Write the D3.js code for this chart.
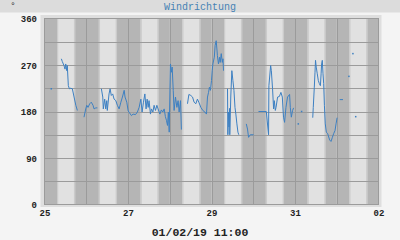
<!DOCTYPE html>
<html lang="de">
<head>
<meta charset="utf-8">
<title>Windrichtung</title>
<style>
  html, body { margin: 0; padding: 0; background: #f4f4f4; }
  svg { display: block; }
  .tick text { font-family: "Liberation Mono", "DejaVu Sans Mono", monospace; font-weight: bold; font-size: 9px; fill: #222; }
</style>
</head>
<body>
<svg id="chart" width="400" height="240"></svg>
<script src="https://d3js.org/d3.v7.min.js"></script>
<script>

// hours after 25.01.19 00:00 ; null in dir = break in the line
var hours = [
  3.9, 6,
  9.7, 10.2, 11.2, 11.8, 12.2, 12.8, 13.1, 13.7, 14.3, 15.1, 16.0, 17.0, 18.0, 18.9, 20,
  22.7, 23.7, 24.3, 25.0, 26.0, 26.9, 27.9, 28.5, 29.5, 30.4, 31.5,
  32.7, 33.5, 33.8, 34.6, 35.2, 35.8, 36.1, 37.1, 37.7, 38.4, 39.2, 40.0, 41.0, 41.9, 42.9, 43.9, 44.8, 45.8, 46.3, 47.3,
  48.1, 50.0, 50.9, 52.3, 53.4, 54.4, 55.4, 56.1, 56.9, 57.7, 58.4, 59.0, 59.6, 60.1, 60.9, 61.5, 62.3, 63.0, 63.8, 64.6,
  65.3, 66.3, 67.2, 68.0, 68.8, 69.5, 70.1, 70.7, 71.2, 71.7, 72.1, 72.4, 73.0, 73.4, 74.0, 74.5, 75.3, 76.1, 76.8, 77.4,
  78.2, 78.7, 80,
  82.2, 83.0, 84.1, 85.1, 86.0, 87.0, 87.9, 88.7, 89.9, 91.0, 92.2, 93.1, 93.7, 94.3, 94.8, 95.4, 96.0, 96.4, 96.8, 97.6,
  98.1, 98.7, 99.1, 99.4, 100.0, 100.6, 101.0, 101.6, 102.2, 102.6, 102.9, 104,
  105.2, 105.4, 105.8, 106.1, 106.4, 106.5, 107.1, 107.7, 108.3, 108.9, 109.5, 110.0, 110.6, 111.2, 111.7, 114,
  116.0, 116.7, 117.3, 118.3, 120.2, 121.5,
  123.0, 127.5, 128.8, 129.0, 130.0, 130.4, 131.1, 131.7, 132.1, 132.7, 133.1, 134.0, 135.0, 135.9, 136.7, 137.4, 138.0,
  138.8, 139.7, 140.9, 141.3, 141.9, 142.6, 143.2, 144.5,
  145.9, 147, 147.8, 150,
  154.2, 154.5, 155.1, 155.5, 155.8, 156.2, 156.8, 157.4, 158.0, 158.6, 159.0, 159.3, 159.7, 160.1, 160.5, 160.9, 161.4,
  162.0, 162.8, 163.9, 164.7, 165.5, 166.2, 167.0, 167.6, 168.2, 169,
  169.7, 171.6, 173,
  175.0, 176, 177.3, 178, 178.9
];
var dir = [
  224, null,
  282, 277, 269, 262, 272, 259, 269, 230, 224, 225, 224, 208, 192, 182, null,
  169, 185, 192, 188, 195, 198, 192, 185, 187, 187, null,
  224, 208, 185, 204, 185, 201, 182, 214, 224, 211, 214, 204, 201, 192, 185, 198, 208, 221, 208, 198,
  181, 172, 175, 174, 179, 188, 204, 179, 198, 214, 185, 204, 188, 201, 175, 185, 179, 192, 182, 192,
  185, 175, 183, 179, 185, 170, 163, 153, 179, 140, 224, 272, 256, 266, 221, 182, 208, 188, 201, 179,
  201, 145, null,
  195, 213, 211, 208, 198, 195, 204, 198, 188, 182, 179, 175, 208, 217, 227, 221, 240, 259, 272, 285,
  308, 317, 301, 288, 272, 285, 275, 292, 275, 282, 259, null,
  224, 135, 179, 150, 186, 135, 210, 259, 240, 221, 188, 175, 156, 140, 135, null,
  156, 146, 130, 135, 135, null,
  180, 180, 135, 230, 269, 259, 224, 185, 201, 182, 188, 208, 209, 217, 208, 169, 159,
  188, 208, 213, 188, 169, 182, 187, null,
  156, null, 180, null,
  168, 188, 227, 256, 279, 266, 253, 240, 234, 230, 253, 272, 279, 253, 234, 192, 156,
  140, 137, 125, 122, 130, 137, 143, 156, 168, null,
  203, 203, null,
  248, null, 292, null, 170
];

var yTicks = [0, 90, 180, 270, 360];
var yGrid = [45, 90, 135, 180, 225, 270, 315];
var tickHours = [0, 48, 96, 144, 192];
var tickLabels = ["25", "27", "29", "31", "02"];
var dayStarts = [0, 24, 48, 72, 96, 120, 144, 168];
// dawn, sunrise, sunset, dusk (hour of day)
var sunTimes = [7.2, 8.0, 16.9, 17.7];
var title = "Windrichtung";
var unit = "°";
var stamp = "01/02/19 11:00";

var svg = d3.select("#chart");
var mono = '"Liberation Mono", "DejaVu Sans Mono", monospace';

var pL = 44.5, pR = 378.5, pT = 18.5, pB = 204.5;

var x = d3.scaleLinear().domain([0, 192]).range([pL, pR]);
var y = d3.scaleLinear().domain([0, 360]).range([pB, pT]);

svg.append("rect").attr("width", 400).attr("height", 240).attr("fill", "#f4f4f4");

// title bar
svg.append("rect").attr("width", 400).attr("height", 12.5).attr("fill", "#dcdcdc");
svg.append("text").attr("x", 13).attr("y", 8).attr("text-anchor", "middle")
    .style("font-family", mono).style("font-size", "9px").attr("fill", "#222").text(unit);
svg.append("text").attr("x", 200).attr("y", 9.5).attr("text-anchor", "middle")
    .style("font-family", mono).style("font-size", "10px").attr("fill", "#4682b4").text(title);

// frame
svg.append("rect").attr("x", 40.5).attr("y", 15).attr("width", 341).attr("height", 192).attr("fill", "#dedede");

// night / day bands
var bands = svg.append("g");
dayStarts.forEach(function(d) {
  var edges = [0].concat(sunTimes).concat([24]);
  var fills = ["#b5b5b5", "#cbcbcb", "#e1e1e1", "#cbcbcb", "#b5b5b5"];
  for (var i = 0; i < 5; i++) {
    bands.append("rect")
        .attr("x", x(d + edges[i]))
        .attr("width", x(d + edges[i + 1]) - x(d + edges[i]))
        .attr("y", pT).attr("height", pB - pT)
        .attr("fill", fills[i]);
  }
});

// grid
var grid = svg.append("g").attr("stroke", "#9b9b9b").attr("stroke-width", 1);
grid.selectAll(".h").data(yGrid).enter().append("line")
    .attr("x1", pL).attr("x2", pR)
    .attr("y1", function(d) { return Math.round(y(d)) + 0.5; })
    .attr("y2", function(d) { return Math.round(y(d)) + 0.5; });
grid.selectAll(".v").data(dayStarts.slice(1)).enter().append("line")
    .attr("y1", pT).attr("y2", pB)
    .attr("x1", function(d) { return Math.round(x(d)) + 0.5; })
    .attr("x2", function(d) { return Math.round(x(d)) + 0.5; });
svg.append("rect").attr("x", pL).attr("y", pT)
    .attr("width", pR - pL).attr("height", pB - pT)
    .attr("fill", "none").attr("stroke", "#9b9b9b");

// data
var pts = hours.map(function(h, i) { return { h: h, v: dir[i] }; });

var line = d3.line()
    .defined(function(d) { return d.v != null; })
    .x(function(d) { return x(d.h); })
    .y(function(d) { return y(d.v); });

svg.append("path").datum(pts)
    .attr("fill", "none")
    .attr("stroke", "#3d80c2")
    .attr("stroke-width", 1)
    .attr("d", line);

// single readings
var lone = pts.filter(function(d, i) {
  return d.v != null &&
    (i === 0 || pts[i - 1].v == null) &&
    (i === pts.length - 1 || pts[i + 1].v == null);
});
svg.selectAll(".dot").data(lone).enter().append("rect")
    .attr("x", function(d) { return x(d.h) - 0.75; })
    .attr("y", function(d) { return y(d.v) - 0.75; })
    .attr("width", 1.5).attr("height", 1.5)
    .attr("fill", "#3d80c2");

// axes
var yAxis = d3.axisLeft(y).tickValues(yTicks).tickSize(0).tickPadding(0);
svg.append("g").attr("transform", "translate(37,0)").call(yAxis)
    .call(function(g) { g.select(".domain").remove(); })
    .selectAll("text").attr("dy", "0.35em").attr("x", 0);

var xAxis = d3.axisBottom(x).tickValues(tickHours)
    .tickFormat(function(d, i) { return tickLabels[i]; })
    .tickSize(0).tickPadding(0);
svg.append("g").attr("transform", "translate(0,210)").call(xAxis)
    .call(function(g) { g.select(".domain").remove(); })
    .selectAll("text").attr("dy", "0.71em").attr("y", 0);

svg.append("text").attr("x", 200).attr("y", 236).attr("text-anchor", "middle")
    .style("font-family", mono).style("font-weight", "bold").style("font-size", "11.5px")
    .attr("fill", "#222").text(stamp);

</script>
</body>
</html>
